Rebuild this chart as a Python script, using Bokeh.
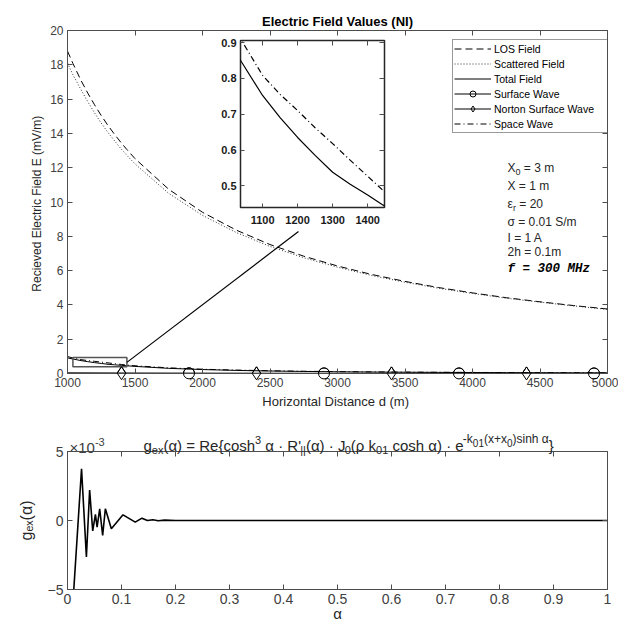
from bokeh.plotting import figure
from bokeh.models import (Legend, LegendItem, Label, FixedTicker, LinearAxis,
                          CustomJSTickFormatter, Range1d)
from bokeh.layouts import column
from bokeh.embed import file_html
from bokeh.resources import INLINE

# ---------------- data ----------------
d = [1000, 1040, 1100, 1150, 1200, 1250, 1300, 1350, 1400, 1440, 1500, 1750,
     2000, 2250, 2500, 2750, 3000, 3250, 3500, 3750, 4000, 4250, 4500, 4750, 5000]
los_field = [18.8, 18.08, 17.09, 16.35, 15.67, 15.04, 14.46, 13.93, 13.43, 13.06, 12.53, 10.74,
             9.40, 8.36, 7.52, 6.84, 6.27, 5.78, 5.37, 5.01, 4.70, 4.42, 4.18, 3.96, 3.76]
scattered_field = [18.10, 17.42, 16.55, 15.85, 15.20, 14.60, 14.05, 13.55, 13.07, 12.72, 12.22, 10.50,
                   9.22, 8.22, 7.41, 6.75, 6.20, 5.72, 5.32, 4.97, 4.67, 4.39, 4.16, 3.94, 3.74]
total_field = [0.91, 0.845, 0.752, 0.69, 0.635, 0.585, 0.538, 0.505, 0.475, 0.449, 0.415, 0.30,
               0.23, 0.18, 0.145, 0.12, 0.10, 0.086, 0.074, 0.065, 0.057, 0.050, 0.045, 0.040, 0.037]
space_wave = [0.99, 0.905, 0.808, 0.755, 0.71, 0.662, 0.618, 0.572, 0.527, 0.491, 0.45, 0.33,
              0.25, 0.20, 0.16, 0.13, 0.11, 0.094, 0.081, 0.071, 0.062, 0.055, 0.049, 0.044, 0.040]
surface_d = [1000, 1900, 2900, 3900, 4900, 5000]
surface_e = [0.02, 0.01, 0.005, 0.003, 0.002, 0.002]
norton_d = [1000, 1400, 2400, 3400, 4400, 5000]
norton_e = [0.03, 0.02, 0.01, 0.006, 0.004, 0.004]

zoom_box_d = [1040, 1440]
zoom_box_e = [0.40, 0.93]
connector_d = [1440, 2711]
connector_e = [0.65, 8.28]

main_xticks = [1000, 1500, 2000, 2500, 3000, 3500, 4000, 4500, 5000]
main_yticks = [0, 2, 4, 6, 8, 10, 12, 14, 16, 18, 20]
inset_xticks = [1100, 1200, 1300, 1400]
inset_yticks = [0.5, 0.6, 0.7, 0.8, 0.9]

alpha = [0.01, 0.026, 0.035, 0.041, 0.0467, 0.0517, 0.0548, 0.0596, 0.0651, 0.0701, 0.0812,
         0.1028, 0.1255, 0.1378, 0.148, 0.158, 0.168, 0.18, 0.2, 1.0]
g_ex_milli = [-6.0, 3.75, -2.65, 2.2, -0.75, 0.45, -0.48, 0.85, -1.08, 0.85, -0.6,
              0.41, -0.12, 0.17, 0.0, 0.06, -0.02, 0.03, 0.0, 0.0]
bot_xticks = [0, 0.1, 0.2, 0.3, 0.4, 0.5, 0.6, 0.7, 0.8, 0.9, 1.0]
bot_yticks = [-5, 0, 5]

FONT = "Liberation Sans"
AX = "#4d4d4d"
TXT = "#404040"

# approximate advance widths (em) of Liberation Sans, used to lay out sub/superscripts
W = {' ': .278, '(': .333, ')': .333, '=': .584, '{': .334, '}': .334, "'": .191, '·': .278,
     '+': .584, '-': .333, 'a': .556, 'c': .5, 'e': .556, 'g': .556, 'h': .556, 'i': .222,
     'k': .5, 'n': .556, 'o': .556, 's': .5, 'x': .5, 'r': .333, 'm': .833, 'R': .722,
     'J': .5, 'X': .667, '|': .26, 'α': .578, 'ρ': .578, 'ε': .46, '×': .584, 'S': .667,
     '/': .278, '.': .278}


def text_w(s, size):
    return sum(W.get(ch, 0.556) for ch in s) * size


def rich_text(p, x, y, x_off, y_off, pieces, color, font=FONT):
    cur = x_off
    for txt, size, dy in pieces:
        stripped = txt.lstrip(' ')
        lead = text_w(txt[:len(txt) - len(stripped)], size)
        p.add_layout(Label(x=x, y=y, x_offset=cur + lead, y_offset=y_off + dy, text=stripped,
                           text_font=font, text_font_size=f"{size}px", text_color=color,
                           text_baseline="alphabetic", text_align="left"))
        cur += text_w(txt, size)


def style_axis(ax, ticks, size, color=TXT, bold=False, show=True):
    ax.ticker = FixedTicker(ticks=ticks)
    ax.major_tick_in = 5
    ax.major_tick_out = 0
    ax.minor_tick_in = 0
    ax.minor_tick_out = 0
    ax.axis_line_color = AX
    ax.major_tick_line_color = AX
    ax.major_label_text_font = FONT
    ax.major_label_text_color = color if show else None
    ax.major_label_text_font_style = "bold" if bold else "normal"
    ax.major_label_text_font_size = size if show else "1px"
    ax.major_label_standoff = 4 if show else 0
    ax.axis_label_text_font = FONT
    ax.axis_label_text_font_style = "normal"
    ax.axis_label_text_color = "#262626"


def add_box_axes(p, xticks, yticks):
    top_ax = LinearAxis()
    right_ax = LinearAxis()
    style_axis(top_ax, xticks, "1px", show=False)
    style_axis(right_ax, yticks, "1px", show=False)
    top_ax.axis_line_color = None
    right_ax.axis_line_color = None
    p.add_layout(top_ax, "above")
    p.add_layout(right_ax, "right")


def bare_layer(width, height, xr, yr, left, top_px, borders, z):
    f = figure(width=width, height=height, output_backend="svg", toolbar_location=None,
               x_range=xr, y_range=yr, x_axis_location=None, y_axis_location=None,
               min_border_left=borders[0], min_border_right=borders[1],
               min_border_top=borders[2], min_border_bottom=borders[3],
               styles={"position": "absolute", "left": f"{left}px", "top": f"{top_px}px",
                       "z-index": str(z)})
    f.xgrid.visible = False
    f.ygrid.visible = False
    f.outline_line_color = None
    f.background_fill_alpha = 0
    f.border_fill_alpha = 0
    return f


# ---------------- top figure ----------------
top = figure(width=618, height=418, output_backend="svg", toolbar_location=None,
             x_range=Range1d(1000, 5000), y_range=Range1d(0, 20),
             min_border_left=67, min_border_right=11, min_border_top=30, min_border_bottom=45)
top.xgrid.visible = False
top.ygrid.visible = False
top.outline_line_color = AX
top.title.text = "Electric Field Values (NI)"
top.title.align = "center"
top.title.text_font = FONT
top.title.text_font_size = "13px"
top.title.text_font_style = "bold"
top.title.text_color = "black"
top.title.standoff = 3

style_axis(top.xaxis[0], main_xticks, "12px")
style_axis(top.yaxis[0], main_yticks, "12px")
top.xaxis[0].axis_label = "Horizontal Distance  d (m)"
top.yaxis[0].axis_label = "Recieved Electric Field  E (mV/m)"
top.xaxis[0].axis_label_text_font_size = "13px"
top.yaxis[0].axis_label_text_font_size = "12px"
top.xaxis[0].axis_label_standoff = 4
top.yaxis[0].axis_label_standoff = 3
add_box_axes(top, main_xticks, main_yticks)

r_los = top.line(d, los_field, line_color="black", line_width=1, line_dash="7 4")
r_scat = top.line(d, scattered_field, line_color="#333333", line_width=1, line_dash="1 2")
r_tot = top.line(d, total_field, line_color="black", line_width=1)
r_sl = top.line(surface_d, surface_e, line_color="black", line_width=1)
r_sm = top.scatter(surface_d[1:5], surface_e[1:5], marker="circle", size=11,
                   line_color="black", fill_color=None, line_width=1)
r_nl = top.line(norton_d, norton_e, line_color="black", line_width=1)
r_nm = top.scatter(norton_d[1:5], norton_e[1:5], marker="diamond", size=13,
                   line_color="black", fill_color=None, line_width=1)
r_sp = top.line(d, space_wave, line_color="black", line_width=1, line_dash="6 3 1 3")

top.quad(left=[zoom_box_d[0]], right=[zoom_box_d[1]], bottom=[zoom_box_e[0]], top=[zoom_box_e[1]],
         fill_color=None, line_color="#555555", line_width=1.5)
top.line(connector_d, connector_e, line_color="black", line_width=1.2)

legend = Legend(items=[
    LegendItem(label="LOS Field", renderers=[r_los]),
    LegendItem(label="Scattered Field", renderers=[r_scat]),
    LegendItem(label="Total Field", renderers=[r_tot]),
    LegendItem(label="Surface Wave", renderers=[r_sl, r_sm]),
    LegendItem(label="Norton Surface Wave", renderers=[r_nl, r_nm]),
    LegendItem(label="Space Wave", renderers=[r_sp]),
], location=(385, 240))
legend.label_text_font = FONT
legend.label_text_font_size = "10.5px"
legend.label_text_color = "black"
legend.glyph_width = 37
legend.glyph_height = 15
legend.label_height = 15
legend.label_width = 112
legend.label_standoff = 3
legend.spacing = 0
legend.padding = 1
legend.margin = 0
legend.border_line_color = "#333333"
legend.background_fill_alpha = 1
top.add_layout(legend)

PX = 4259  # left edge of the parameter block (data units)
PC = "#262626"
rich_text(top, PX, 12.24, 0, -4, [("X", 12, 0), ("0", 9, -4), (" = 3 m", 12, 0)], PC)
rich_text(top, PX, 11.14, 0, -4, [("X = 1 m", 12, 0)], PC)
rich_text(top, PX, 10.09, 0, -4, [("ε", 12, 0), ("r", 9, -4), (" = 20", 12, 0)], PC)
rich_text(top, PX, 9.04, 0, -4, [("σ = 0.01 S/m", 12, 0)], PC)
rich_text(top, PX, 8.16, 0, -4, [("I = 1 A", 12, 0)], PC)
rich_text(top, PX, 7.29, 0, -4, [("2h = 0.1m", 12, 0)], PC)
top.add_layout(Label(x=PX, y=6.12, text="f = 300 MHz", text_font="Liberation Mono",
                     text_font_size="12.5px", text_font_style="bold italic",
                     text_color="black", text_baseline="middle"))

# markers that sit on the x axis are drawn whole (not clipped) on a transparent layer
# whose frame reaches 12 px below the main frame, with the same data scale
mk = bare_layer(618, 385, Range1d(1000, 5000), Range1d(-12 * 20 / 343, 20), 0, 0,
                (67, 11, 30, 0), 4)
mk.scatter(surface_d[1:5], surface_e[1:5], marker="circle", size=11,
           line_color="black", fill_color=None, line_width=1)
mk.scatter(norton_d[1:5], norton_e[1:5], marker="diamond", size=13,
           line_color="black", fill_color=None, line_width=1)

# ---------------- inset (floating over the top figure) ----------------
# a column aligns the left/right borders of its children, so the inset keeps 67/11 borders
inset = figure(width=222, height=193, output_backend="svg", toolbar_location=None,
               x_range=Range1d(1037, 1448), y_range=Range1d(0.44, 0.905),
               min_border_left=67, min_border_right=11, min_border_top=2, min_border_bottom=24,
               styles={"position": "absolute", "left": "173px", "top": "38px", "z-index": "5"})
inset.xgrid.visible = False
inset.ygrid.visible = False
inset.border_fill_alpha = 0
inset.background_fill_color = "white"
inset.outline_line_color = "#262626"
inset.outline_line_width = 1.5
style_axis(inset.xaxis[0], inset_xticks, "11px", color="#1a1a1a", bold=True)
style_axis(inset.yaxis[0], inset_yticks, "11px", color="#1a1a1a", bold=True)
inset.xaxis[0].axis_line_color = None
inset.yaxis[0].axis_line_color = None
inset.xaxis[0].major_tick_in = 4
inset.yaxis[0].major_tick_in = 4
inset.xaxis[0].major_label_standoff = 8
add_box_axes(inset, inset_xticks, inset_yticks)
inset.line(d, total_field, line_color="black", line_width=1.2)
inset.line(d, space_wave, line_color="black", line_width=1.2, line_dash="6 3 1 3")

# ---------------- bottom figure ----------------
bot = figure(width=618, height=206, output_backend="svg", toolbar_location=None,
             x_range=Range1d(0, 1), y_range=Range1d(-5, 5),
             min_border_left=67, min_border_right=9, min_border_top=33, min_border_bottom=35)
bot.xgrid.visible = False
bot.ygrid.visible = False
bot.outline_line_color = AX
style_axis(bot.xaxis[0], bot_xticks, "14px")
style_axis(bot.yaxis[0], bot_yticks, "14px")
bot.xaxis[0].formatter = CustomJSTickFormatter(code="return String(Number(tick.toFixed(2)));")
bot.xaxis[0].axis_label = "α"
bot.xaxis[0].axis_label_text_font_size = "15px"
bot.xaxis[0].axis_label_standoff = -2
bot.yaxis[0].axis_label = "gₑₓ(α)"
bot.yaxis[0].axis_label_text_font_size = "16px"
bot.yaxis[0].axis_label_standoff = 10
add_box_axes(bot, bot_xticks, bot_yticks)
bot.line(alpha, g_ex_milli, line_color="black", line_width=1.6)

# ---------------- floating text layer for the bottom title (pixel coordinates) ----------------
tl = bare_layer(618, 42, Range1d(67, 607), Range1d(460, 418), 0, 418, (67, 11, 0, 0), 6)
M, S, SS, E = 15, 11, 10, 12
rich_text(tl, 143, 445, 0, 0, [
    ("g", M, 0), ("ex", S, -4), ("(α) = Re{cosh", M, 0), ("3", S, 6), (" α · R'", M, 0),
    ("||", S, -4), ("(α) · J", M, 0), ("0", S, -4), ("(ρ k", M, 0), ("01", S, -4),
    (" cosh α) · e", M, 0), ("-k", E, 7), ("01", SS, 3), ("(x+x", E, 7), ("0", SS, 3),
    (")sinh α", E, 7), ("}", M, 0)], "#262626")
rich_text(tl, 69, 447, 0, 0, [("×10", 15, 0), ("-3", 11, 6)], TXT)

layout = column(top, bot, mk, inset, tl, spacing=0)
open("out.html", "w").write(file_html(layout, INLINE))
